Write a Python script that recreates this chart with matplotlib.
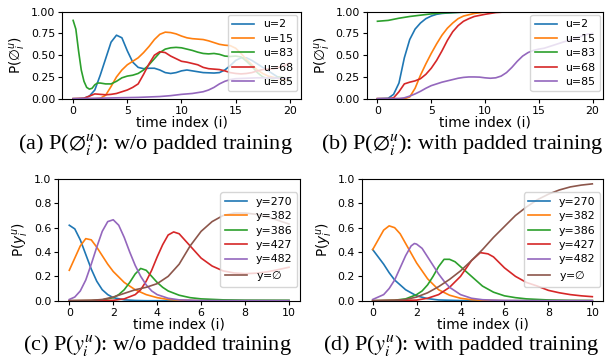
import matplotlib
matplotlib.use("Agg")
import matplotlib.pyplot as plt

# ---------------- data ----------------
# Panel (a): P(empty) w/o padded training
a_labels = ["u=2", "u=15", "u=83", "u=68", "u=85"]
a_u2_x = [0, 0.5, 1, 1.5, 2, 2.5, 3, 3.5, 4, 4.5, 5, 5.5, 6, 6.5, 7, 7.5, 8, 8.5, 9, 9.5, 10, 10.5, 11, 11.5, 12, 13, 13.5, 14, 14.5, 15, 15.5, 16, 16.5, 17, 18, 19, 20]
a_u2_y = [0, 0, 0.005, 0.03, 0.1, 0.27, 0.46, 0.65, 0.73, 0.7, 0.55, 0.42, 0.36, 0.345, 0.35, 0.35, 0.33, 0.3, 0.29, 0.3, 0.32, 0.33, 0.32, 0.31, 0.3, 0.295, 0.3, 0.33, 0.38, 0.44, 0.47, 0.47, 0.44, 0.4, 0.32, 0.24, 0.2]
a_u15_x = [0, 2, 2.5, 3, 3.5, 4, 4.5, 5, 5.5, 6, 6.5, 7, 7.5, 8, 8.5, 9, 9.5, 10, 10.5, 11, 11.5, 12, 12.5, 13, 13.5, 14, 14.5, 15, 15.5, 16, 16.5, 17, 17.5, 18, 19, 20]
a_u15_y = [0, 0, 0.005, 0.04, 0.14, 0.25, 0.33, 0.39, 0.43, 0.47, 0.53, 0.6, 0.68, 0.74, 0.765, 0.76, 0.745, 0.72, 0.7, 0.69, 0.685, 0.68, 0.665, 0.645, 0.625, 0.615, 0.61, 0.58, 0.52, 0.45, 0.39, 0.33, 0.29, 0.26, 0.23, 0.21]
a_u83_x = [0, 0.25, 0.5, 0.75, 1, 1.25, 1.5, 1.75, 2, 2.25, 2.5, 3, 3.5, 4, 4.5, 5, 5.5, 6, 6.5, 7, 7.5, 8, 8.5, 9, 9.5, 10, 10.5, 11, 11.5, 12, 12.5, 13, 13.5, 14, 14.5, 15, 15.5, 16, 16.5, 17, 17.5, 18, 18.5, 19, 19.5, 20]
a_u83_y = [0.9, 0.8, 0.55, 0.33, 0.2, 0.13, 0.11, 0.12, 0.16, 0.18, 0.18, 0.17, 0.17, 0.2, 0.24, 0.26, 0.27, 0.29, 0.33, 0.39, 0.46, 0.53, 0.57, 0.585, 0.59, 0.585, 0.57, 0.555, 0.535, 0.52, 0.515, 0.52, 0.51, 0.49, 0.485, 0.49, 0.48, 0.43, 0.37, 0.3, 0.25, 0.23, 0.23, 0.25, 0.24, 0.22]
a_u68_x = [0, 1, 1.5, 2, 2.5, 3, 3.5, 4, 4.5, 5, 5.5, 6, 6.5, 7, 7.5, 8, 8.5, 9, 9.5, 10, 10.5, 11, 11.5, 12, 12.5, 13, 13.5, 14, 14.5, 15, 15.5, 16, 16.5, 17, 17.5, 18, 18.5, 19, 19.5, 20]
a_u68_y = [0, 0.005, 0.03, 0.055, 0.05, 0.045, 0.05, 0.06, 0.08, 0.1, 0.13, 0.17, 0.28, 0.4, 0.5, 0.54, 0.53, 0.49, 0.46, 0.43, 0.42, 0.405, 0.39, 0.36, 0.345, 0.34, 0.335, 0.32, 0.3, 0.29, 0.285, 0.29, 0.3, 0.32, 0.335, 0.34, 0.345, 0.36, 0.38, 0.41]
a_u85_x = [0, 2, 4, 6, 8, 9, 10, 11, 12, 12.5, 13, 13.5, 14, 14.5, 15, 16, 17, 18, 19, 20]
a_u85_y = [0, 0.005, 0.01, 0.015, 0.025, 0.035, 0.05, 0.06, 0.08, 0.1, 0.13, 0.17, 0.2, 0.22, 0.23, 0.235, 0.24, 0.24, 0.235, 0.235]

# Panel (b): P(empty) with padded training
b_u2_x = [0, 1, 1.5, 2, 2.5, 3, 3.5, 4, 4.5, 5, 5.5, 6, 7, 8, 9, 20]
b_u2_y = [0, 0.005, 0.05, 0.18, 0.47, 0.68, 0.8, 0.87, 0.92, 0.95, 0.97, 0.98, 0.99, 0.995, 1, 1]
b_u15_x = [0, 2.5, 3, 3.5, 4, 4.5, 5, 5.5, 6, 6.5, 7, 7.5, 8, 9, 10, 11, 20]
b_u15_y = [0, 0, 0.02, 0.12, 0.27, 0.4, 0.52, 0.63, 0.73, 0.81, 0.87, 0.92, 0.95, 0.98, 0.995, 1, 1]
b_u83_x = [0, 1, 2, 3, 4, 5, 6, 7, 8, 10, 20]
b_u83_y = [0.89, 0.9, 0.925, 0.945, 0.96, 0.975, 0.985, 0.99, 0.995, 1, 1]
b_u68_x = [0, 1, 1.5, 2, 2.5, 3, 3.5, 4, 4.5, 5, 5.5, 6, 6.5, 7, 7.5, 8, 8.5, 9, 10, 11, 12, 13, 20]
b_u68_y = [0, 0, 0.01, 0.08, 0.17, 0.19, 0.205, 0.23, 0.28, 0.35, 0.44, 0.55, 0.67, 0.77, 0.84, 0.89, 0.92, 0.945, 0.97, 0.99, 0.998, 1, 1]
b_u85_x = [0, 2, 2.5, 3, 3.5, 4, 4.5, 5, 5.5, 6, 6.5, 7, 7.5, 8, 8.5, 9, 9.5, 10, 10.5, 11, 11.5, 12, 12.5, 13, 13.5, 14, 14.5, 15, 15.5, 16, 16.5, 17, 17.5, 18, 18.5, 19, 19.5, 20]
b_u85_y = [0, 0.002, 0.01, 0.03, 0.055, 0.085, 0.12, 0.15, 0.17, 0.19, 0.205, 0.22, 0.235, 0.245, 0.25, 0.25, 0.248, 0.24, 0.235, 0.24, 0.26, 0.3, 0.36, 0.43, 0.49, 0.53, 0.555, 0.57, 0.58, 0.6, 0.62, 0.64, 0.66, 0.68, 0.7, 0.72, 0.74, 0.75]

# Panel (c): P(y) w/o padded training
c_labels = ["y=270", "y=382", "y=386", "y=427", "y=482", r"y=$\varnothing$"]
c_270_x = [0, 0.25, 0.5, 0.75, 1, 1.25, 1.5, 1.75, 2, 2.5, 3, 3.5, 10]
c_270_y = [0.62, 0.59, 0.5, 0.38, 0.26, 0.16, 0.09, 0.05, 0.025, 0.007, 0.002, 0, 0]
c_382_x = [0, 0.25, 0.5, 0.75, 1, 1.25, 1.5, 1.75, 2, 2.5, 3, 3.5, 4, 4.5, 5, 6, 10]
c_382_y = [0.25, 0.35, 0.45, 0.51, 0.5, 0.44, 0.37, 0.3, 0.24, 0.15, 0.09, 0.05, 0.025, 0.01, 0.004, 0, 0]
c_386_x = [0, 1, 1.5, 2, 2.25, 2.5, 2.75, 3, 3.25, 3.5, 3.75, 4, 4.25, 4.5, 5, 5.5, 6, 7, 8, 10]
c_386_y = [0, 0.001, 0.006, 0.025, 0.05, 0.09, 0.15, 0.22, 0.265, 0.25, 0.2, 0.15, 0.11, 0.08, 0.045, 0.025, 0.015, 0.007, 0.004, 0.003]
c_427_x = [0, 2, 2.5, 3, 3.25, 3.5, 3.75, 4, 4.25, 4.5, 4.75, 5, 5.25, 5.5, 6, 6.5, 7, 7.5, 8, 8.5, 9, 9.5, 10]
c_427_y = [0, 0.003, 0.015, 0.05, 0.09, 0.16, 0.25, 0.36, 0.46, 0.54, 0.565, 0.55, 0.5, 0.45, 0.35, 0.285, 0.245, 0.228, 0.222, 0.226, 0.237, 0.255, 0.275]
c_482_x = [0, 0.25, 0.5, 0.75, 1, 1.25, 1.5, 1.75, 2, 2.25, 2.5, 2.75, 3, 3.25, 3.5, 3.75, 4, 4.5, 5, 6, 10]
c_482_y = [0.01, 0.03, 0.08, 0.17, 0.3, 0.44, 0.57, 0.65, 0.665, 0.62, 0.52, 0.4, 0.29, 0.2, 0.13, 0.08, 0.05, 0.02, 0.007, 0.001, 0]
c_nul_x = [0, 1, 1.5, 2, 2.5, 3, 3.5, 4, 4.5, 5, 5.5, 6, 6.5, 7, 7.5, 8, 8.5, 9, 9.5, 10]
c_nul_y = [0, 0.003, 0.01, 0.03, 0.06, 0.09, 0.11, 0.14, 0.2, 0.3, 0.45, 0.57, 0.65, 0.7, 0.72, 0.72, 0.71, 0.69, 0.66, 0.63]

# Panel (d): P(y) with padded training
d_270_x = [0, 0.25, 0.5, 0.75, 1, 1.25, 1.5, 2, 2.5, 3, 4, 10]
d_270_y = [0.42, 0.36, 0.3, 0.23, 0.17, 0.13, 0.09, 0.04, 0.017, 0.006, 0.001, 0]
d_382_x = [0, 0.25, 0.5, 0.75, 1, 1.25, 1.5, 1.75, 2, 2.5, 3, 3.5, 4, 4.5, 5, 6, 10]
d_382_y = [0.42, 0.5, 0.58, 0.615, 0.6, 0.55, 0.47, 0.39, 0.31, 0.18, 0.09, 0.045, 0.02, 0.008, 0.003, 0, 0]
d_386_x = [0, 1, 1.5, 2, 2.25, 2.5, 2.75, 3, 3.25, 3.5, 3.75, 4, 4.5, 5, 5.5, 6, 6.5, 7, 8, 9, 10]
d_386_y = [0, 0.004, 0.015, 0.05, 0.08, 0.13, 0.2, 0.28, 0.34, 0.34, 0.32, 0.28, 0.2, 0.12, 0.07, 0.04, 0.025, 0.015, 0.006, 0.002, 0.001]
d_427_x = [0, 2, 2.5, 3, 3.5, 4, 4.5, 4.9, 5.25, 5.5, 6, 6.5, 7, 7.5, 8, 8.5, 9, 9.5, 10]
d_427_y = [0, 0.005, 0.02, 0.05, 0.11, 0.2, 0.33, 0.395, 0.385, 0.36, 0.27, 0.2, 0.15, 0.12, 0.085, 0.065, 0.05, 0.04, 0.033]
d_482_x = [0, 0.5, 0.75, 1, 1.25, 1.5, 1.75, 1.9, 2, 2.25, 2.5, 2.75, 3, 3.25, 3.5, 4, 4.5, 5, 6, 10]
d_482_y = [0.01, 0.05, 0.1, 0.17, 0.27, 0.37, 0.45, 0.47, 0.465, 0.43, 0.36, 0.29, 0.22, 0.16, 0.11, 0.05, 0.02, 0.008, 0.001, 0]
d_nul_x = [0, 1, 1.5, 2, 2.5, 3, 3.5, 4, 4.5, 5, 5.5, 6, 6.5, 7, 7.5, 8, 8.5, 9, 9.5, 10]
d_nul_y = [0, 0.003, 0.01, 0.03, 0.065, 0.115, 0.175, 0.245, 0.33, 0.42, 0.52, 0.61, 0.7, 0.77, 0.83, 0.875, 0.91, 0.935, 0.95, 0.96]

captions = [
    r"(a) P($\varnothing_i^u$): w/o padded training",
    r"(b) P($\varnothing_i^u$): with padded training",
    r"(c) P($y_i^u$): w/o padded training",
    r"(d) P($y_i^u$): with padded training",
]

# ---------------- figure ----------------
W, H = 614, 361
fig = plt.figure(figsize=(W / 100, H / 100), dpi=100)

def px_axes(x0, x1, ytop, ybot):
    return fig.add_axes([x0 / W, 1 - ybot / H, (x1 - x0) / W, (ybot - ytop) / H])

colors = plt.rcParams["axes.prop_cycle"].by_key()["color"]
TICK = 7.9
LAB = 9.8
LEG = 7.9
LW = 1.2

def style(ax, xticks, yticks, ylabel):
    ax.set_xticks(xticks)
    ax.set_yticks(yticks)
    ax.set_ylim(0, 1)
    ax.tick_params(labelsize=TICK, length=3, width=0.8, pad=2)
    ax.set_xlabel("time index (i)", fontsize=LAB, labelpad=0)
    ax.set_ylabel(ylabel, fontsize=LAB, labelpad=2)

legkw = dict(fontsize=LEG, borderaxespad=0.3, labelspacing=0.4, handlelength=2.0)

# (a)
ax_a = px_axes(62.3, 300.7, 11.7, 98.7)
for (xs, ys), lab, c in zip([(a_u2_x, a_u2_y), (a_u15_x, a_u15_y), (a_u83_x, a_u83_y),
                             (a_u68_x, a_u68_y), (a_u85_x, a_u85_y)], a_labels, colors):
    ax_a.plot(xs, ys, color=c, lw=LW, label=lab)
style(ax_a, [0, 5, 10, 15, 20], [0, 0.25, 0.5, 0.75, 1.0], r"P($\varnothing_i^u$)")
ax_a.set_yticklabels(["0.00", "0.25", "0.50", "0.75", "1.00"])
ax_a.legend(loc="upper right", **legkw)

# (b)
ax_b = px_axes(366.7, 603.3, 11.7, 98.7)
for (xs, ys), lab, c in zip([(b_u2_x, b_u2_y), (b_u15_x, b_u15_y), (b_u83_x, b_u83_y),
                             (b_u68_x, b_u68_y), (b_u85_x, b_u85_y)], a_labels, colors):
    ax_b.plot(xs, ys, color=c, lw=LW, label=lab)
style(ax_b, [0, 5, 10, 15, 20], [0, 0.25, 0.5, 0.75, 1.0], r"P($\varnothing_i^u$)")
ax_b.set_yticklabels(["0.00", "0.25", "0.50", "0.75", "1.00"])
ax_b.legend(loc="upper right", **legkw)

# (c)
ax_c = px_axes(58.3, 300.0, 179.0, 300.7)
for (xs, ys), lab, c in zip([(c_270_x, c_270_y), (c_382_x, c_382_y), (c_386_x, c_386_y),
                             (c_427_x, c_427_y), (c_482_x, c_482_y), (c_nul_x, c_nul_y)], c_labels, colors):
    ax_c.plot(xs, ys, color=c, lw=LW, label=lab)
style(ax_c, [0, 2, 4, 6, 8, 10], [0, 0.2, 0.4, 0.6, 0.8, 1.0], r"P($y_i^u$)")
ax_c.legend(loc="center right", **legkw)

# (d)
ax_d = px_axes(361.7, 603.3, 179.0, 300.7)
for (xs, ys), lab, c in zip([(d_270_x, d_270_y), (d_382_x, d_382_y), (d_386_x, d_386_y),
                             (d_427_x, d_427_y), (d_482_x, d_482_y), (d_nul_x, d_nul_y)], c_labels, colors):
    ax_d.plot(xs, ys, color=c, lw=LW, label=lab)
style(ax_d, [0, 2, 4, 6, 8, 10], [0, 0.2, 0.4, 0.6, 0.8, 1.0], r"P($y_i^u$)")
ax_d.legend(loc="center right", **legkw)

# captions
cap_pos = [(155, 145), (462, 145), (157, 346), (461, 346)]
for (cx, cy), txt in zip(cap_pos, captions):
    fig.text(cx / W, 1 - cy / H, txt, ha="center", va="center", fontsize=16,
             family="Liberation Serif", math_fontfamily="stix")

fig.savefig("out.png", dpi=100)
